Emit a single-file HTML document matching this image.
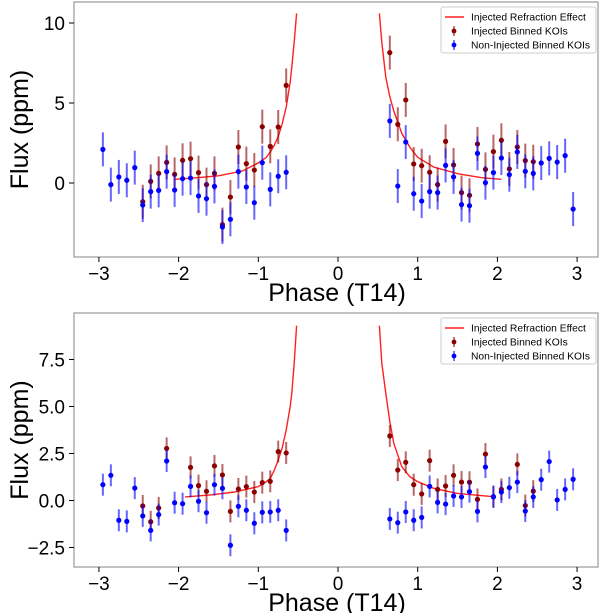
<!DOCTYPE html>
<html><head><meta charset="utf-8"><style>
html,body{margin:0;padding:0;background:#fff;}
svg{display:block;font-family:"Liberation Sans",sans-serif;}
</style></head><body>
<svg id="chart" width="600" height="613" viewBox="0 0 600 613" xmlns="http://www.w3.org/2000/svg"></svg>
<script>
const xTicks=[-3,-2,-1,0,1,2,3];
const binsLeft=[-2.95,-2.85,-2.75,-2.65,-2.55,-2.45,-2.35,-2.25,-2.15,-2.05,-1.95,-1.85,-1.75,-1.65,-1.55,-1.45,-1.35,-1.25,-1.15,-1.05,-0.95,-0.85,-0.75,-0.65];
const binsRight=[0.65,0.75,0.85,0.95,1.05,1.15,1.25,1.35,1.45,1.55,1.65,1.75,1.85,1.95,2.05,2.15,2.25,2.35,2.45,2.55,2.65,2.75,2.85,2.95];
// top panel
const topBlueL=[2.1,-0.1,0.38,0.17,0.96,-1.38,-0.54,-0.46,0.71,-0.44,0.27,0.31,-0.81,-0.98,-0.21,-2.75,-2.27,0.71,-0.25,-1.23,1.27,-0.4,0.42,0.67];
const topRedL=[null,null,null,null,null,-1.17,0.1,0.6,1.29,0.54,1.42,1.52,0.65,-0.1,0.6,-2.6,-0.88,2.25,1.21,0.81,3.52,2.29,3.5,6.1];
const topBlueR=[3.88,-0.19,2.56,-0.67,-1.13,-0.54,-0.6,1.1,0.38,-1.35,-1.42,1.85,0.02,0.65,1.56,0.52,1.94,0.73,0.6,1.25,1.54,1.31,1.71,-1.63];
const topRedR=[8.15,3.67,5.19,1.19,1.08,0.67,-0.1,2.6,1.13,-0.6,-0.77,2.44,0.85,1.96,2.67,0.88,2.25,1.4,1.33,null,null,null,null,null];
const topCurveX=[-2.05,-1.8,-1.5,-1.2,-1.0,-0.9,-0.85,-0.8,-0.75,-0.7,-0.65,-0.6,-0.58,-0.55,-0.52];
const topCurveY=[0.23,0.32,0.45,0.75,1.25,1.6,1.94,2.35,2.9,3.7,4.75,6.3,7.25,8.8,10.6];
const topCurveRX=[0.52,0.55,0.6,0.65,0.7,0.8,0.9,1.0,1.2,1.5,1.8,2.05];
const topCurveRY=[10.6,8.8,6.6,5.4,4.5,3.1,2.25,1.6,1.0,0.58,0.33,0.23];
const topYTicks=[0,5,10];
const topYLabels=["0","5","10"];
// bottom panel
const botBlueL=[0.84,1.34,-1.05,-1.11,0.66,-0.82,-1.59,-0.75,2.1,-0.12,-0.17,0.75,-0.04,-0.65,0.84,0.65,-2.38,-0.31,-0.52,-1.21,-0.63,-0.61,-0.52,-1.59];
const botRedL=[null,null,null,null,null,-0.29,-1.13,-0.4,2.77,null,null,1.76,0.79,0.49,1.84,1.36,-0.58,0.61,0.74,0.45,0.95,1.02,2.6,2.53];
const botBlueR=[-0.98,-1.18,-0.61,-1.05,-0.9,0.75,-0.1,-0.19,0.24,0.19,0.47,-0.58,1.78,0.2,0.45,0.68,0.98,-0.56,0.19,1.11,2.07,0.03,0.59,1.13];
const botRedR=[3.43,1.62,2.03,0.84,0.35,2.12,0.59,0.77,1.34,0.98,0.97,0.06,2.47,0.2,0.59,null,1.92,-0.27,0.5,null,null,null,null,null];
const botCurveX=[-1.92,-1.6,-1.3,-1.0,-0.9,-0.85,-0.8,-0.75,-0.7,-0.65,-0.6,-0.58,-0.55,-0.52];
const botCurveY=[0.19,0.3,0.45,0.74,1.0,1.18,1.6,2.15,2.8,3.75,5.0,5.7,7.3,9.3];
const botCurveRX=[0.52,0.55,0.6,0.65,0.7,0.8,0.9,1.0,1.2,1.5,1.95];
const botCurveRY=[9.3,7.3,5.7,4.2,3.04,1.8,1.27,1.0,0.65,0.38,0.2];
const botYTicks=[-2.5,0,2.5,5,7.5];
const botYLabels=["\u22122.5","0.0","2.5","5.0","7.5"];

const svg=document.getElementById('chart');
const NS='http://www.w3.org/2000/svg';
function mk(tag,attrs,parent){const e=document.createElementNS(NS,tag);for(const k in attrs)e.setAttribute(k,attrs[k]);(parent||svg).appendChild(e);return e;}
const xScale=v=>338+v*79.7;

function panel(p){
  const g=mk('g',{});
  
  
  const yS=v=>p.y0-v*p.ppu;
  const frame=mk('rect',{x:74,y:p.top,width:524,height:p.bot-p.top,fill:'none',stroke:'#999','stroke-width':1.2},g);
  
  
  xTicks.forEach(t=>{
    const x=xScale(t);
    mk('line',{x1:x,x2:x,y1:p.bot,y2:p.bot+5,stroke:'#000'},g);
    const tx=mk('text',{x:x,y:p.bot+23,'font-size':19,'text-anchor':'middle'},g);
    tx.textContent=t<0?'\u2212'+Math.abs(t):String(t);
    
    
  });
  p.yTicks.forEach((t,i)=>{
    const y=yS(t);
    mk('line',{x1:69,x2:74,y1:y,y2:y,stroke:'#000'},g);
    const ty=mk('text',{x:65,y:y+7,'font-size':19,'text-anchor':'end'},g);
    ty.textContent=p.yLabels[i];
    
    
  });
  const xl=mk('text',{x:337,y:p.bot+44,'font-size':25,'text-anchor':'middle'},g);
  xl.textContent='Phase (T14)';
  
  
  const yl=mk('text',{x:0,y:0,'font-size':25,'text-anchor':'middle',transform:`translate(28,${(p.top+p.bot)/2}) rotate(-90)`},g);
  yl.textContent='Flux (ppm)';
  
  
  function curve(xs,ys){
    const d=xs.map((x,i)=>(i?'L':'M')+xScale(x).toFixed(1)+','+Math.max(p.top,yS(ys[i])).toFixed(1)).join('');
    const c=mk('path',{d:d,fill:'none',stroke:'#ff2020','stroke-width':1.4},g);
    
    
  }
  curve(p.cx,p.cy);curve(p.crx,p.cry);
  function series(xs,ys,col,name){
    xs.forEach((x,i)=>{
      const v=ys[i]; if(v===null)return;
      const X=xScale(x),Y=yS(v);
      const l=mk('line',{x1:X,x2:X,y1:Y-p.err,y2:Y+p.err,stroke:col,'stroke-width':2,'stroke-opacity':0.6},g);
      
      
      const c=mk('circle',{cx:X,cy:Y,r:2.6,fill:col},g);
      
      
    });
  }
  series(binsLeft,p.rl,'#8b0000','injected');
  series(binsRight,p.rr,'#8b0000','injected');
  series(binsLeft,p.bl,'#0000ff','non-injected');
  series(binsRight,p.br,'#0000ff','non-injected');
  const lg=mk('g',{},g);
  
  
  const ly=p.top+5;
  mk('rect',{x:441,y:ly,width:155,height:46,fill:'#fff',stroke:'#ccc',rx:2},lg);
  mk('line',{x1:445,x2:464,y1:ly+10,y2:ly+10,stroke:'#ff2020','stroke-width':1.4},lg);
  [['Injected Refraction Effect',null],['Injected Binned KOIs','#8b0000'],['Non-Injected Binned KOIs','#0000ff']].forEach((e,i)=>{
    const yy=ly+10+i*14;
    if(e[1]){mk('line',{x1:454,x2:454,y1:yy-5,y2:yy+5,stroke:e[1],'stroke-width':1.5,'stroke-opacity':0.7},lg);mk('circle',{cx:454,cy:yy,r:2.4,fill:e[1]},lg);}
    const t=mk('text',{x:471,y:yy+3.5,'font-size':10.3},lg);
    t.textContent=e[0];
    
    
  });
}
panel({name:'top-panel',top:2,bot:257,y0:183,ppu:16,err:17,yTicks:topYTicks,yLabels:topYLabels,bl:topBlueL,rl:topRedL,br:topBlueR,rr:topRedR,cx:topCurveX,cy:topCurveY,crx:topCurveRX,cry:topCurveRY});
panel({name:'bottom-panel',top:313,bot:567,y0:500.5,ppu:18.8,err:11,yTicks:botYTicks,yLabels:botYLabels,bl:botBlueL,rl:botRedL,br:botBlueR,rr:botRedR,cx:botCurveX,cy:botCurveY,crx:botCurveRX,cry:botCurveRY});
</script>
</body></html>
